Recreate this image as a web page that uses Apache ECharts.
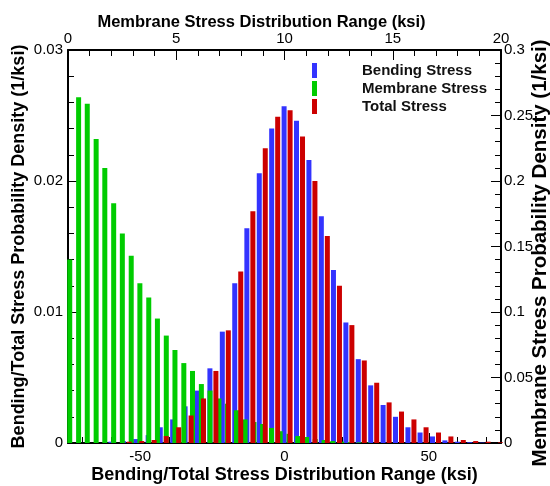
<!DOCTYPE html>
<html>
<head>
<meta charset="utf-8">
<script src="https://cdn.jsdelivr.net/npm/echarts@6/dist/echarts.min.js"></script>
<style>
  html, body { margin: 0; padding: 0; background: #fff; }
  #chart { width: 550px; height: 486px; }
</style>
</head>
<body>
<div id="chart"></div>
<script>
// bending / total stress bins (ksi, bottom axis)
var stressBins = [-72.0, -67.7, -63.4, -59.1, -54.8, -50.5, -46.2, -42.0, -37.7, -33.4,
    -29.1, -24.8, -20.5, -16.2, -12.0, -7.7, -3.4, 0.9, 5.2, 9.5,
    13.8, 18.0, 22.3, 26.6, 30.9, 35.2, 39.5, 43.8, 48.0, 52.3,
    56.6, 60.9, 65.2, 69.5, 73.8];
var bendingPdf = [0, 0, 0, 0.0001, 0.00015, 0.0003, 0.0006, 0.0012, 0.0018, 0.0028,
    0.0040, 0.0057, 0.0085, 0.0122, 0.0164, 0.0206, 0.0240, 0.0257, 0.0246, 0.0216,
    0.0173, 0.0132, 0.0092, 0.0064, 0.0044, 0.0029, 0.0020, 0.0012, 0.0008, 0.0005,
    0.0002, 0.0001, 0.00006, 0.00003, 0];
var totalPdf = [0, 0, 0, 0, 0.0001, 0.00015, 0.00023, 0.00053, 0.0012, 0.0021,
    0.0034, 0.0055, 0.0086, 0.0131, 0.0177, 0.0225, 0.0249, 0.0254, 0.0234, 0.0200,
    0.0158, 0.0120, 0.0090, 0.0063, 0.0046, 0.0031, 0.0024, 0.0018, 0.0012, 0.0008,
    0.0005, 0.00023, 0.00015, 0.0001, 0.00005];

// membrane stress bins (ksi, top axis)
var membraneBins = [0.08, 0.49, 0.89, 1.30, 1.70, 2.11, 2.51, 2.92, 3.32, 3.73,
    4.13, 4.54, 4.94, 5.35, 5.75, 6.16, 6.56, 6.97, 7.37, 7.78,
    8.18, 8.59, 8.99, 9.40, 9.80, 10.21, 10.61, 11.02, 11.42, 11.83,
    12.23, 12.64, 13.04, 13.45, 13.85];
var membranePdf = [0.140, 0.264, 0.259, 0.232, 0.210, 0.183, 0.160, 0.143, 0.122, 0.111,
    0.095, 0.082, 0.071, 0.061, 0.055, 0.045, 0.040, 0.034, 0.030, 0.025,
    0.018, 0.016, 0.0145, 0.0115, 0.009, 0.007, 0.0053, 0.0046, 0.003, 0.0023,
    0.0015, 0.001, 0.0008, 0.0005, 0.0003];

// bottom axis ticks
var bottomLabels = [-50, 0, 50];
var bottomMinorTicks = [-70, -60, -40, -30, -20, -10, 10, 20, 30, 40, 60, 70];

var FONT = '"Liberation Sans", Arial, sans-serif';

function pairs(xs, ys) {
    return xs.map(function(x, i) { return [x, ys[i]]; });
}

var chart = echarts.init(document.getElementById('chart'));

var lineStyle = { color: '#000', width: 2 };
var labelStyle = { color: '#000', fontSize: 15, fontFamily: FONT };
var nameStyle = { color: '#000', fontSize: 18, fontWeight: 'bold', fontFamily: FONT };

var option = {
    animation: false,
    grid: { left: 68, right: 49, top: 50, bottom: 43, containLabel: false, outerBoundsMode: 'none' },
    legend: {
        orient: 'vertical',
        left: 307,
        top: 58,
        itemWidth: 5,
        itemHeight: 15,
        itemGap: 3,
        icon: 'rect',
        textStyle: { fontSize: 15, fontWeight: 'bold', color: '#111', fontFamily: FONT, padding: [0, 0, 0, 40] },
        data: ['Bending Stress', 'Membrane Stress', 'Total Stress']
    },
    xAxis: [
        {
            type: 'value',
            position: 'bottom',
            min: -75,
            max: 75,
            name: 'Bending/Total Stress Distribution Range (ksi)',
            nameLocation: 'middle',
            nameGap: 23,
            nameMoveOverlap: false,
            nameTextStyle: nameStyle,
            axisLine: { onZero: false, lineStyle: lineStyle },
            axisTick: { inside: true, length: 10, customValues: bottomLabels, lineStyle: { color: '#000' } },
            axisLabel: Object.assign({ margin: 6, customValues: bottomLabels }, labelStyle),
            splitLine: { show: false }
        },
        {
            type: 'value',
            position: 'top',
            min: 0,
            max: 20,
            interval: 5,
            name: 'Membrane Stress Distribution Range (ksi)',
            nameLocation: 'middle',
            nameGap: 19,
            nameMoveOverlap: false,
            nameTextStyle: Object.assign({}, nameStyle, { fontSize: 16.5, padding: [0, 46, 0, 0] }),
            axisLine: { onZero: false, lineStyle: lineStyle },
            axisTick: { inside: true, length: 10, lineStyle: { color: '#000' } },
            minorTick: { show: true, splitNumber: 5, length: 6, lineStyle: { color: '#000' } },
            axisLabel: Object.assign({ margin: 4 }, labelStyle),
            splitLine: { show: false }
        },
        {
            // minor ticks of the bottom axis
            type: 'value',
            position: 'bottom',
            min: -75,
            max: 75,
            axisLine: { show: false, onZero: false },
            axisTick: { inside: true, length: 6, customValues: bottomMinorTicks, lineStyle: { color: '#000' } },
            axisLabel: { show: false },
            splitLine: { show: false }
        }
    ],
    yAxis: [
        {
            type: 'value',
            position: 'left',
            min: 0,
            max: 0.03,
            interval: 0.01,
            name: 'Bending/Total Stress Probability Density (1/ksi)',
            nameLocation: 'middle',
            nameRotate: 90,
            nameGap: 40,
            nameMoveOverlap: false,
            nameTextStyle: nameStyle,
            axisLine: { show: true, onZero: false, lineStyle: lineStyle },
            axisTick: { show: true, inside: true, length: 10, lineStyle: { color: '#000' } },
            minorTick: { show: true, splitNumber: 5, length: 6, lineStyle: { color: '#000' } },
            axisLabel: Object.assign({ margin: 5 }, labelStyle),
            splitLine: { show: false }
        },
        {
            type: 'value',
            position: 'right',
            min: 0,
            max: 0.3,
            interval: 0.05,
            name: 'Membrane Stress Probability Density (1/ksi)',
            nameLocation: 'middle',
            nameRotate: 90,
            nameGap: 29,
            nameMoveOverlap: false,
            nameTextStyle: Object.assign({}, nameStyle, { fontSize: 20.5, padding: [0, 13, 0, 0] }),
            axisLine: { show: true, onZero: false, lineStyle: lineStyle },
            axisTick: { show: true, inside: true, length: 10, lineStyle: { color: '#000' } },
            minorTick: { show: true, splitNumber: 5, length: 6, lineStyle: { color: '#000' } },
            axisLabel: Object.assign({ margin: 3 }, labelStyle),
            splitLine: { show: false }
        }
    ],
    series: [
        {
            name: 'Bending Stress',
            type: 'bar',
            xAxisIndex: 0,
            yAxisIndex: 0,
            barWidth: 5,
            barGap: '20%',
            itemStyle: { color: '#3333ff' },
            data: pairs(stressBins, bendingPdf)
        },
        {
            name: 'Membrane Stress',
            type: 'bar',
            xAxisIndex: 1,
            yAxisIndex: 1,
            barWidth: 5,
            itemStyle: { color: '#00cc00' },
            data: pairs(membraneBins, membranePdf)
        },
        {
            name: 'Total Stress',
            type: 'bar',
            xAxisIndex: 0,
            yAxisIndex: 0,
            barWidth: 5,
            barGap: '20%',
            itemStyle: { color: '#cc0000' },
            data: pairs(stressBins, totalPdf)
        }
    ]
};

chart.setOption(option);
</script>
</body>
</html>
